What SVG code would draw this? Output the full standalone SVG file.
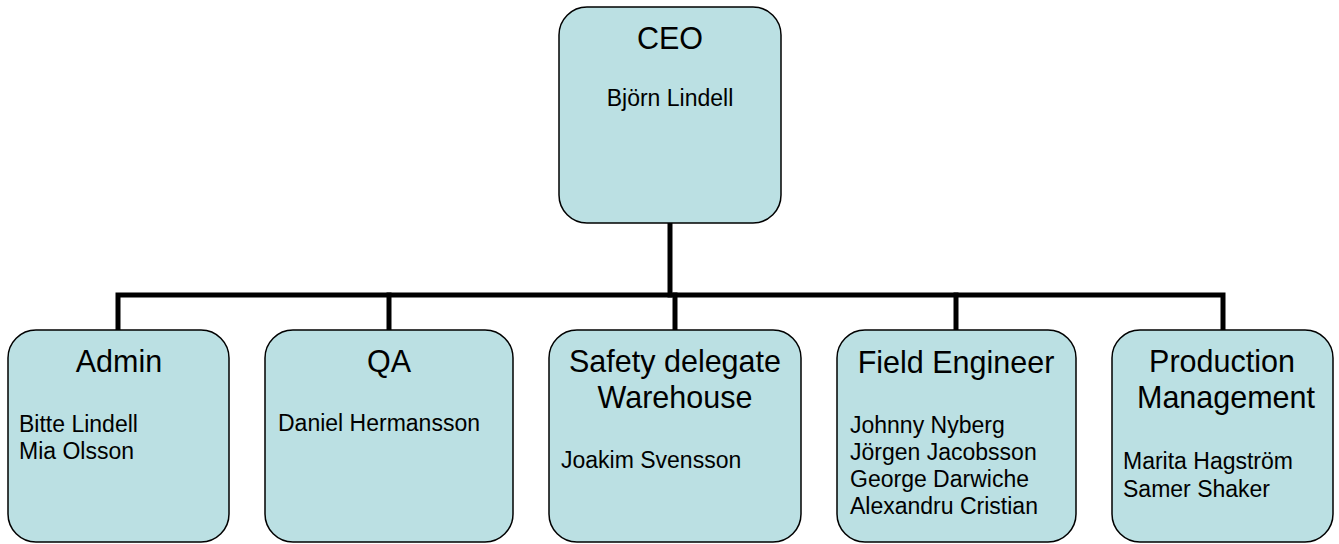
<svg xmlns="http://www.w3.org/2000/svg" width="1339" height="544" viewBox="0 0 1339 544">
<style>
.box{fill:#BBE0E3;stroke:#000;stroke-width:1.5}
.t{font-family:"Liberation Sans",Arial,sans-serif;font-size:30.5px;fill:#000;text-anchor:middle}
.b{font-family:"Liberation Sans",Arial,sans-serif;font-size:23px;fill:#000}
.c{fill:none;stroke:#000;stroke-width:5;stroke-linecap:square}
</style>
<rect width="1339" height="544" fill="#fff"/>
<g id="connectors">
<path class="c" d="M670,223 V295"/>
<path class="c" d="M118,330 V295 H1223 V330"/>
<path class="c" d="M389,295 V330"/>
<path class="c" d="M675,295 V330"/>
<path class="c" d="M956,295 V330"/>
</g>
<g id="ceo">
<rect class="box" x="559" y="7" width="222" height="216" rx="28" ry="28"/>
<text class="t" x="670" y="49">CEO</text>
<text class="b" x="670" y="106" text-anchor="middle">Björn Lindell</text>
</g>
<g id="admin">
<rect class="box" x="8" y="330" width="221" height="212" rx="28" ry="28"/>
<text class="t" x="119" y="372">Admin</text>
<text class="b" x="19" y="432">Bitte Lindell</text>
<text class="b" x="19" y="459">Mia Olsson</text>
</g>
<g id="qa">
<rect class="box" x="265" y="330" width="248" height="212" rx="28" ry="28"/>
<text class="t" x="389" y="372">QA</text>
<text class="b" x="278" y="431">Daniel Hermansson</text>
</g>
<g id="safety">
<rect class="box" x="549" y="330" width="252" height="212" rx="28" ry="28"/>
<text class="t" x="675" y="372">Safety delegate</text>
<text class="t" x="675" y="408">Warehouse</text>
<text class="b" x="561" y="468">Joakim Svensson</text>
</g>
<g id="field">
<rect class="box" x="837" y="330" width="239" height="212" rx="28" ry="28"/>
<text class="t" x="956" y="373">Field Engineer</text>
<text class="b" x="850" y="433">Johnny Nyberg</text>
<text class="b" x="850" y="460">Jörgen Jacobsson</text>
<text class="b" x="850" y="487">George Darwiche</text>
<text class="b" x="850" y="514">Alexandru Cristian</text>
</g>
<g id="production">
<rect class="box" x="1112" y="330" width="221" height="212" rx="28" ry="28"/>
<text class="t" x="1222" y="372">Production</text>
<text class="t" x="1226" y="408">Management</text>
<text class="b" x="1123" y="469">Marita Hagström</text>
<text class="b" x="1123" y="497">Samer Shaker</text>
</g>
</svg>
